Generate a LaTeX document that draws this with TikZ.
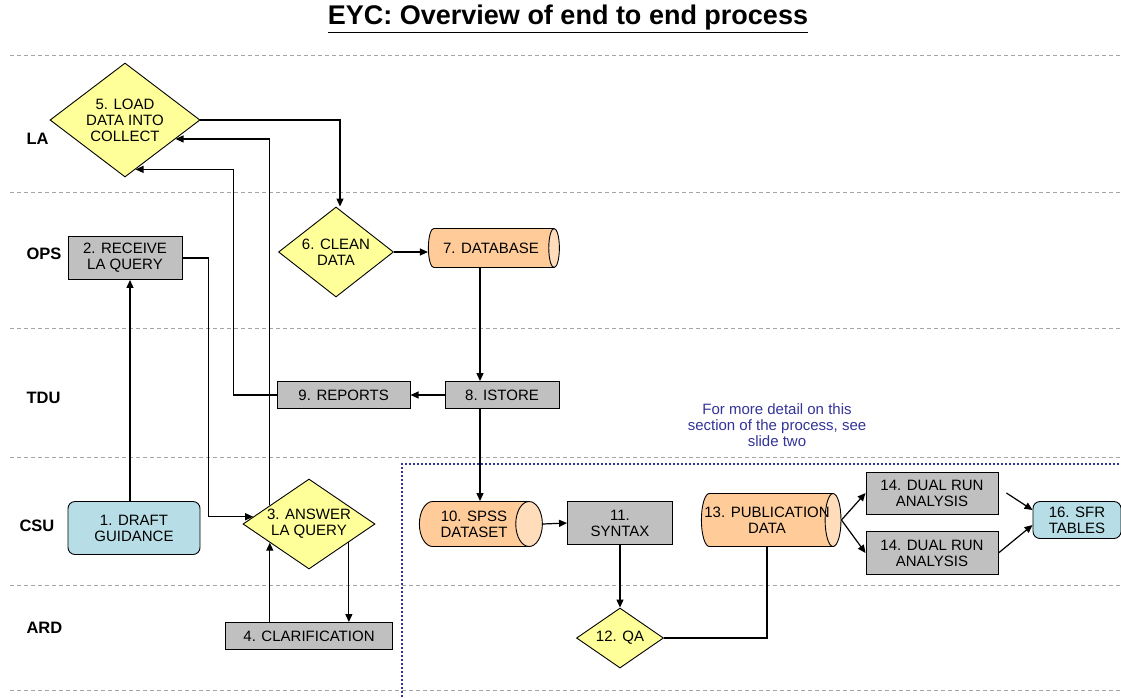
\documentclass[tikz,border=0pt]{standalone}
\usepackage{fontspec}
\setmainfont{Liberation Sans}
\usetikzlibrary{calc,positioning,shapes,arrows.meta}

\definecolor{qyellow}{RGB}{255,255,153}
\definecolor{qgray}{RGB}{192,192,192}
\definecolor{qpeach}{RGB}{255,204,153}
\definecolor{qpeachend}{RGB}{255,221,186}
\definecolor{qblue}{RGB}{183,222,230}
\definecolor{qnavy}{RGB}{51,51,153}
\definecolor{qlane}{RGB}{165,165,165}

\tikzset{
	decision/.style={diamond,draw,fill=qyellow,line width=0.9pt,inner sep=0pt,align=center},
	task/.style={rectangle,draw,fill=qgray,line width=0.9pt,inner sep=0pt,align=center},
	start/.style={rectangle,rounded corners=7pt,draw,fill=qblue,line width=0.9pt,inner sep=0pt,align=center},
	store/.style={cylinder,draw,line width=0.9pt,cylinder uses custom fill,cylinder body fill=qpeach,cylinder end fill=qpeachend,aspect=1,inner sep=0pt,align=center},
	lane/.style={font=\fontsize{16.5}{18}\selectfont\bfseries,anchor=west},
	lanesep/.style={draw=qlane,line width=1pt,dash pattern=on 4pt off 3pt},
	arr/.style={-{Triangle[length=8pt,width=7pt]},line width=1.2pt}
}

\begin{document}
\begin{tikzpicture}[x=1pt,y=-1pt,font=\fontsize{15}{16}\selectfont]
		\useasboundingbox (0,0) rectangle (1121,697);
		\node(title) at (568,19) {\fontsize{27}{30}\selectfont\bfseries\underline{EYC: Overview of end to end process}};
		% swim lanes
		\foreach \y in {55,192,328,457,585,690}
			\draw[lanesep] (10,\y) -- (1121,\y);
		\node[lane] (la) at (23,139) {LA};
		\node[lane] (ops) at (23,254) {OPS};
		\node[lane] (tdu) at (23,398) {TDU};
		\node[lane] (csu) at (16,526) {CSU};
		\node[lane] (ard) at (23,628) {ARD};
		% boxes
		\node[decision,minimum width=150pt,minimum height=114pt,aspect=1.32] (5) at (125,120) {5. LOAD\\DATA INTO\\COLLECT};
		\node[task,minimum width=114pt,minimum height=43pt] (2) at (125,258) {2. RECEIVE\\LA QUERY};
		\node[decision,minimum width=115pt,minimum height=90pt,aspect=1.28] (6) at (336,252) {6. CLEAN\\DATA};
		\node[store,minimum width=39pt,minimum height=131pt] (7) at (491,248) {7. DATABASE};
		\node[task,minimum width=114pt,minimum height=27pt] (8) at (502,395) {8. ISTORE};
		\node[task,minimum width=133pt,minimum height=27pt,left=34pt of 8] (9) {9. REPORTS};
		\node[start,minimum width=132pt,minimum height=53pt] (1) at (134,528) {1. DRAFT\\GUIDANCE};
		\node[decision,minimum width=132pt,minimum height=90pt,aspect=1.47] (3) at (309,524) {3. ANSWER\\LA QUERY};
		\node[task,minimum width=167pt,minimum height=27pt] (4) at (309,636) {4. CLARIFICATION};
		\node[store,minimum width=45pt,minimum height=123pt] (10) at (474,524) {10. SPSS\\DATASET};
		\node[task,minimum width=105pt,minimum height=43pt] (11) at (620,523) {11.\\SYNTAX};
		\node[decision,minimum width=87pt,minimum height=60pt,aspect=1.45] (12) at (620,638) {12. QA};
		\node[store,minimum width=53pt,minimum height=138pt,aspect=0.6,inner xsep=-5pt] (13) at (767,520) {13. PUBLICATION\\DATA};
		\node[task,minimum width=132pt,minimum height=42pt] (14a) at (932,493) {14. DUAL RUN\\ANALYSIS};
		\node[task,minimum width=132pt,minimum height=43pt] (14b) at (932,553) {14. DUAL RUN\\ANALYSIS};
		\node[start,minimum width=88pt,minimum height=37pt] (16) at (1077,520) {16. SFR\\TABLES};
		\node[text=qnavy,align=center] (note) at (777,425) {For more detail on this\\section of the process, see\\slide two};
		\draw[qnavy,line width=1.6pt,dash pattern=on 1.6pt off 2.4pt] (402,697) |- (1121,464);
		% connectors
		\coordinate (gap) at ([xshift=8pt]14a.east);
		\coordinate (col) at ([xshift=-22pt]8.north);
		\coordinate (up3) at ($(3.west)!0.41!(3.north)$);
		\coordinate (lo3) at ($(3.west)!0.41!(3.south)$);
		\coordinate (out3) at ($(3.south)!0.6!(3.east)$);
		\draw[arr] ([xshift=-4pt]1.north) -- ([xshift=-4pt]1.north |- 2.south);
		\draw[arr] (2.east) -- ++(26,0) |- ($(3.west)!0.16!(3.north)$);
		\draw[arr] (up3) |- ($(5.south)!0.67!(5.east)$);
		\draw[arr] (lo3 |- 4.north) -- (lo3);
		\draw[arr] (out3) -- (out3 |- 4.north);
		\draw[arr] (9.west) -- ++(-43,0) |- ($(5.south)!0.14!(5.east)$);
		\draw[arr] (5.east) -| ([xshift=4pt]6.north);
		\path[arr]
			(6.east) edge (6.east -| 7.west)
			(8.west) edge (9.east)
			(11.south) edge (12.north)
			(13.east) edge (14a.west)
			(13.east) edge (14b.west)
			(gap) edge ([yshift=10pt]16.west)
			(14b.east) edge ([yshift=-5pt]16.west);
		\draw[arr] (7.south -| col) -- (col);
		\draw[arr] (8.south -| col) -- (10.north -| col);
		\draw[arr] (10.east) -- (11.west);
		\draw[line width=1.2pt] (12.east) -| (13.south);
	\end{tikzpicture}
\end{document}
